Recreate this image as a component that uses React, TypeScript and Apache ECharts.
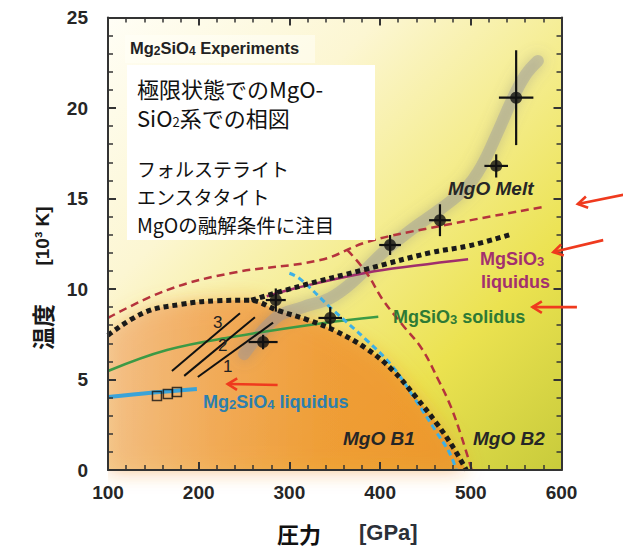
import React, { useEffect, useRef } from 'react';
import * as echarts from 'echarts';

// Axis ranges / ticks
const xRange = [100, 600];
const yRange = [0, 25];
const xInterval = 100;
const yInterval = 5;

// Experimental points: [pressure GPa, temperature 10^3K, dP, dT]
const experiments = [
  [271, 7.07, 16, 0.4],
  [285, 9.39, 11, 0.64],
  [345, 8.4, 13, 0.6],
  [411, 12.43, 12, 0.55],
  [466, 13.8, 12, 0.88],
  [528, 16.8, 13, 0.64],
  [550, 20.57, 19, 2.62],
];

// Mg2SiO4 open squares
const mg2sio4Squares = [
  [154, 4.09],
  [166, 4.2],
  [176, 4.31],
];

// MgO B1 boundary (black dotted, lower branch)
const mgoB1Boundary = [
  [100, 7.45], [140, 8.7], [180, 9.15], [220, 9.35], [255, 9.38], [288, 8.8],
  [320, 8.3], [350, 7.7], [385, 6.7], [414, 5.5], [440, 4.0], [462, 2.6],
  [480, 1.3], [495, 0],
];
// MgO melting (black dotted, upper branch)
const mgoMelting = [
  [258, 9.38], [311, 10.15], [385, 11.1], [455, 12.0], [499, 12.4], [543, 13.0],
];
// red dashed upper
const redUpper = [
  [100, 8.4], [165, 9.94], [238, 10.9], [334, 11.6], [386, 12.6], [458, 13.4], [582, 14.55],
];
// red dashed lower (B1-B2)
const redLower = [
  [364, 12.15], [385, 10.9], [403, 9.4], [425, 8.0], [446, 6.7], [465, 4.9],
  [478, 3.5], [490, 1.8], [501, 0],
];
// blue dashed
const blueDashed = [
  [300, 10.87], [312, 10.55], [348, 8.84], [385, 7.18], [414, 5.7], [438, 3.95],
  [462, 2.1], [477, 0.9], [484, 0],
];
// MgSiO3 liquidus
const mgsio3Liquidus = [
  [275, 9.6], [311, 10.1], [385, 10.9], [440, 11.3], [497, 11.65],
];
// MgSiO3 solidus
const mgsio3Solidus = [
  [100, 5.47], [165, 6.63], [238, 7.36], [334, 8.1], [398, 8.47],
];
// Mg2SiO4 liquidus
const mg2sio4Liquidus = [
  [100, 4.03], [150, 4.28], [198, 4.48],
];
// Gray MgO melt band
const meltBand = [
  [250, 6.4], [285, 8.4], [315, 9.0], [345, 9.5], [370, 10.4], [403, 12.0],
  [435, 13.3], [466, 14.4], [495, 15.6], [512, 16.8], [530, 18.7], [545, 20.4],
  [560, 21.8], [574, 22.6],
];
// Hugoniot lines 1, 2, 3
const hugoniot1 = [[199, 5.14], [282, 8.14]];
const hugoniot2 = [[184, 5.2], [262, 8.44]];
const hugoniot3 = [[170.5, 5.47], [245.5, 8.66]];

// Red arrows: [tailX, tailY, tipX, tipY] (data units)
const arrows = [
  [668, 15.2, 618, 14.7],
  [646, 12.7, 591, 12.04],
  [617, 9.0, 568, 9.0],
  [287, 4.7, 232, 4.75],
];

const LAT = '"Liberation Sans", Arial, sans-serif';
const JP = '"Noto Sans CJK JP", sans-serif';

function lineSeries(data: number[][], color: string, width: number, type: any, z = 5) {
  return {
    type: 'line',
    data,
    smooth: 0.4,
    symbol: 'none',
    showSymbol: false,
    silent: true,
    z,
    lineStyle: { color, width, type, cap: 'butt' },
  };
}

function axisCommon(show: boolean) {
  return {
    type: 'value',
    z: 10,
    axisLine: { show: true, onZero: false, lineStyle: { color: '#333', width: 2 } },
    axisTick: { show: true, inside: true, length: 8, lineStyle: { color: '#333', width: 2 } },
    minorTick: { show: true, splitNumber: 5, length: 5, lineStyle: { color: '#333', width: 1.5 } },
    splitLine: { show: false },
    minorSplitLine: { show: false },
    axisLabel: {
      show,
      fontSize: 19,
      fontWeight: 'bold',
      fontFamily: LAT,
      color: '#262626',
    },
  };
}

export default function App() {
  const ref = useRef<HTMLDivElement>(null);
  useEffect(() => {
    if (!ref.current) return;
    const chart = echarts.init(ref.current, null, { renderer: 'svg' });

    const gridBg = new echarts.graphic.LinearGradient(0, 0, 1, 1, [
      { offset: 0, color: '#fffef6' },
      { offset: 0.3, color: '#fcf6d2' },
      { offset: 0.55, color: '#f4ec8a' },
      { offset: 0.75, color: '#ebe250' },
      { offset: 1, color: '#c8cb3b' },
    ]);
    const orange = new echarts.graphic.LinearGradient(0, 0, 1, 0, [
      { offset: 0, color: '#f3c08a' },
      { offset: 0.3, color: '#f1a556' },
      { offset: 0.6, color: '#ef9532' },
      { offset: 1, color: '#ee8e28' },
    ]);

    const textEl = (x: number, y: number, text: string, style: any) => ({
      type: 'text',
      x,
      y,
      z: 100,
      silent: true,
      style: { text, align: 'left', verticalAlign: 'middle', ...style },
    });

    const labelBold = (size: number, color: string, italic = false) => ({
      fontSize: size,
      fontWeight: 'bold',
      fontStyle: italic ? 'italic' : 'normal',
      fontFamily: LAT,
      fill: color,
    });
    const richSub = (size: number, color: string) => ({
      a: { fontSize: size, fontWeight: 'bold', fontFamily: LAT, fill: color },
      s: {
        fontSize: Math.round(size * 0.7),
        fontWeight: 'bold',
        fontFamily: LAT,
        fill: color,
        verticalAlign: 'bottom',
        lineHeight: size * 0.95,
      },
    });

    const jp = (size: number) => ({ fontSize: size, fontFamily: JP, fill: '#111' });

    chart.setOption({
      animation: false,
      grid: {
        left: 108,
        right: 61.5,
        top: 17.5,
        bottom: 79,
        show: true,
        backgroundColor: gridBg,
        borderWidth: 0,
      },
      xAxis: [
        {
          ...axisCommon(true),
          position: 'bottom',
          min: xRange[0],
          max: xRange[1],
          interval: xInterval,
          axisLabel: { ...axisCommon(true).axisLabel, margin: 13 },
        },
        {
          ...axisCommon(false),
          position: 'top',
          min: xRange[0],
          max: xRange[1],
          interval: xInterval,
        },
      ],
      yAxis: [
        {
          ...axisCommon(true),
          position: 'left',
          min: yRange[0],
          max: yRange[1],
          interval: yInterval,
          axisLabel: { ...axisCommon(true).axisLabel, margin: 20 },
        },
        {
          ...axisCommon(false),
          position: 'right',
          min: yRange[0],
          max: yRange[1],
          interval: yInterval,
        },
      ],
      series: [
        {
          type: 'line',
          data: mgoB1Boundary,
          smooth: 0.4,
          symbol: 'none',
          silent: true,
          clip: false,
          z: 1,
          lineStyle: { width: 0, opacity: 0 },
          areaStyle: {
            color: orange,
            shadowBlur: 20,
            shadowColor: 'rgba(240,140,40,0.8)',
          },
        },
        {
          type: 'line',
          data: meltBand,
          smooth: 0.4,
          symbol: 'none',
          silent: true,
          z: 2,
          lineStyle: {
            color: 'rgba(150,150,160,0.42)',
            width: 12,
            cap: 'round',
            shadowBlur: 14,
            shadowColor: 'rgba(120,120,130,0.85)',
          },
        },
        lineSeries(mgsio3Solidus, '#3c9a45', 2.5, 'solid', 4),
        lineSeries(mgsio3Liquidus, '#a02e6c', 2.5, 'solid', 4),
        lineSeries(redUpper, '#b5333c', 2.5, [8, 5], 5),
        lineSeries(redLower, '#b5333c', 2.5, [8, 5], 5),
        lineSeries(blueDashed, '#3db0e6', 3, [6, 4], 5),
        lineSeries(mgoB1Boundary, '#1a1a1a', 5, [5, 4], 6),
        lineSeries(mgoMelting, '#1a1a1a', 5, [5, 4], 6),
        lineSeries(mg2sio4Liquidus, '#3ba3d8', 4, 'solid', 5),
        lineSeries(hugoniot1, '#111', 2, 'solid', 6),
        lineSeries(hugoniot2, '#111', 2, 'solid', 6),
        lineSeries(hugoniot3, '#111', 2, 'solid', 6),
        {
          type: 'custom',
          data: experiments,
          encode: { x: 0, y: 1 },
          silent: true,
          z: 8,
          renderItem: (params: any, api: any) => {
            const x = api.value(0), y = api.value(1), dx = api.value(2), dy = api.value(3);
            const l = api.coord([x - dx, y]);
            const r = api.coord([x + dx, y]);
            const b = api.coord([x, y - dy]);
            const t = api.coord([x, y + dy]);
            const style = { stroke: '#111', lineWidth: 2.2 };
            return {
              type: 'group',
              children: [
                { type: 'line', shape: { x1: l[0], y1: l[1], x2: r[0], y2: r[1] }, style },
                { type: 'line', shape: { x1: b[0], y1: b[1], x2: t[0], y2: t[1] }, style },
              ],
            };
          },
        },
        {
          type: 'scatter',
          data: experiments.map((d) => [d[0], d[1]]),
          symbol: 'circle',
          symbolSize: 12,
          silent: true,
          z: 9,
          itemStyle: { color: '#111' },
        },
        {
          type: 'scatter',
          data: mg2sio4Squares,
          symbol: 'rect',
          symbolSize: 9,
          silent: true,
          z: 9,
          itemStyle: { color: 'rgba(0,0,0,0)', borderColor: '#111', borderWidth: 1.5 },
        },
        {
          type: 'custom',
          data: arrows,
          encode: { x: [0, 2], y: [1, 3] },
          clip: false,
          silent: true,
          z: 20,
          renderItem: (params: any, api: any) => {
            const tail = api.coord([api.value(0), api.value(1)]);
            const tip = api.coord([api.value(2), api.value(3)]);
            const a = Math.atan2(tip[1] - tail[1], tip[0] - tail[0]);
            const L = 11, w = 0.55;
            const h1 = [tip[0] - L * Math.cos(a - w), tip[1] - L * Math.sin(a - w)];
            const h2 = [tip[0] - L * Math.cos(a + w), tip[1] - L * Math.sin(a + w)];
            const style = { stroke: '#ef3a1e', lineWidth: 2.6, fill: null };
            return {
              type: 'group',
              children: [
                { type: 'line', shape: { x1: tail[0], y1: tail[1], x2: tip[0], y2: tip[1] }, style },
                { type: 'polyline', shape: { points: [h1, tip, h2] }, style },
              ],
            };
          },
        },
      ],
      graphic: [
        {
          type: 'rect',
          z: 90,
          silent: true,
          shape: { x: 125, y: 35, width: 190, height: 28 },
          style: { fill: 'rgba(255,255,248,0.55)' },
        },
        {
          type: 'rect',
          z: 90,
          silent: true,
          shape: { x: 127, y: 65, width: 248, height: 175 },
          style: { fill: '#ffffff' },
        },
        textEl(130, 48, '{a|Mg}{s|2}{a|SiO}{s|4}{a| Experiments}', { rich: richSub(16.5, '#222') }),
        textEl(137, 88, '極限状態でのMgO-', jp(22)),
        textEl(137, 117, '{a|SiO}{s|2}{a|系での相図}', {
          rich: {
            a: { fontSize: 22, fontFamily: JP, fill: '#111' },
            s: { fontSize: 13, fontFamily: JP, fill: '#111', verticalAlign: 'bottom', lineHeight: 21 },
          },
        }),
        textEl(137, 168.5, 'フォルステライト', jp(19)),
        textEl(137, 196.5, 'エンスタタイト', jp(19)),
        textEl(137, 224.5, 'MgOの融解条件に注目', jp(19.5)),
        textEl(448, 188, 'MgO Melt', labelBold(19, '#262626', true)),
        textEl(480, 259, '{a|MgSiO}{s|3}', { rich: richSub(18, '#a3306e') }),
        textEl(481, 282, 'liquidus', labelBold(18, '#a3306e')),
        textEl(393, 317, '{a|MgSiO}{s|3}{a| solidus}', { rich: richSub(18, '#2e7a35') }),
        textEl(203, 402, '{a|Mg}{s|2}{a|SiO}{s|4}{a| liquidus}', { rich: richSub(18, '#2c7fae') }),
        textEl(343, 438, 'MgO B1', labelBold(19, '#262626', true)),
        textEl(473, 438, 'MgO B2', labelBold(19, '#262626', true)),
        textEl(213, 322, '3', { fontSize: 17, fontFamily: LAT, fill: '#222' }),
        textEl(218, 345, '2', { fontSize: 17, fontFamily: LAT, fill: '#222' }),
        textEl(223, 366, '1', { fontSize: 17, fontFamily: LAT, fill: '#222' }),
        {
          type: 'text',
          x: 42,
          y: 327,
          rotation: Math.PI / 2,
          z: 100,
          silent: true,
          style: { text: '温度', align: 'center', verticalAlign: 'middle', fontSize: 23, fontWeight: 'bold', fontFamily: JP, fill: '#1a1a1a' },
        },
        {
          type: 'text',
          x: 42,
          y: 236,
          rotation: Math.PI / 2,
          z: 100,
          silent: true,
          style: { text: '[10³ K]', align: 'center', verticalAlign: 'middle', fontSize: 19, fontWeight: 'bold', fontFamily: LAT, fill: '#1a1a1a' },
        },
        textEl(277, 533, '圧力', { fontSize: 22, fontWeight: 'bold', fontFamily: JP, fill: '#111' }),
        textEl(359, 532, '[GPa]', { fontSize: 22, fontWeight: 'bold', fontFamily: LAT, fill: '#2b3038' }),
      ],
    });
    return () => chart.dispose();
  }, []);
  return (
    <div
      ref={ref}
      style={{ position: 'fixed', left: 0, top: 0, width: 623, height: 549, background: '#fff' }}
    />
  );
}
